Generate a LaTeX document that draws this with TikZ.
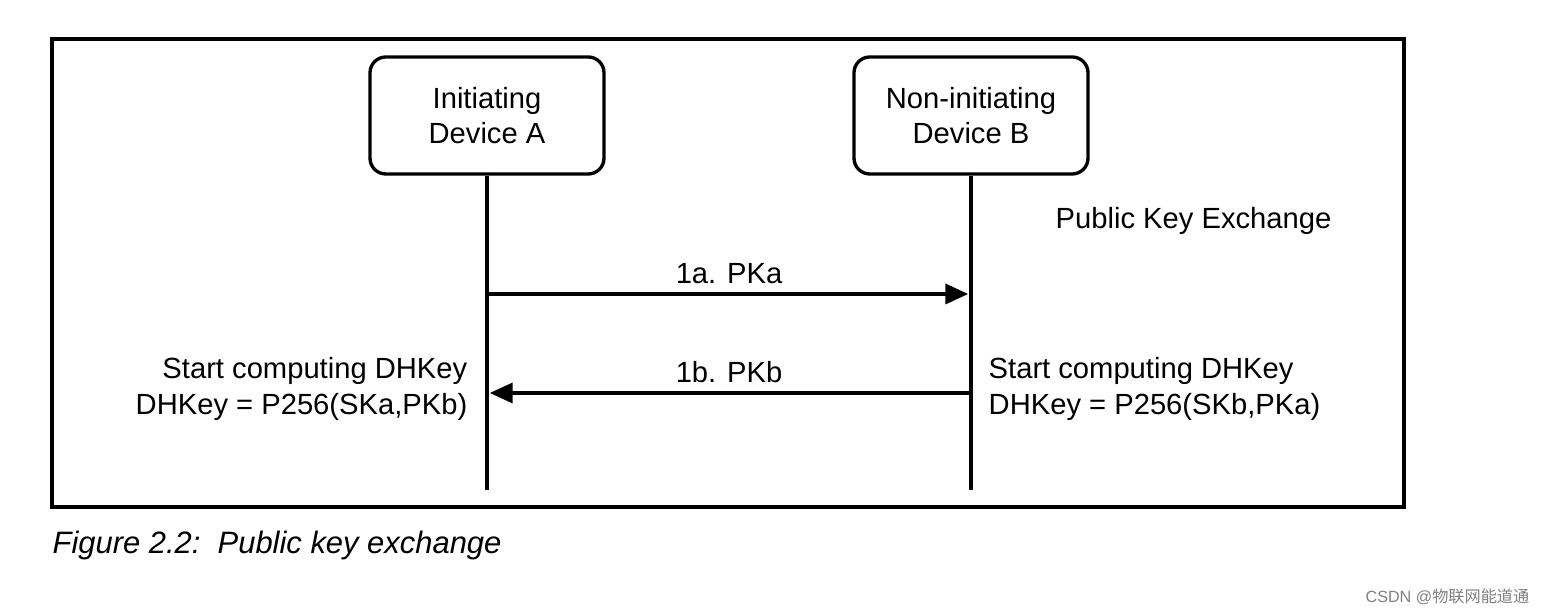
\documentclass[tikz,border=0pt]{standalone}
\usepackage{fontspec}
\setmainfont{Liberation Sans}
\newfontfamily\cjkfont{Noto Sans CJK SC}
\usetikzlibrary{arrows, arrows.meta}
\usetikzlibrary{positioning}
\usepackage{xcolor}

\tikzset{
	device/.style={draw, line width=0.95pt, rounded corners=4.5pt, minimum width=2.34cm, minimum height=1.17cm, align=center, font=\fontsize{8.3}{10}\selectfont},
	life/.style={line width=0.95pt},
	msg/.style={line width=0.95pt, -{Triangle[length=6.5pt,width=5.7pt]}},
	txt/.style={font=\fontsize{8.3}{10}\selectfont, inner sep=0pt}
}

\begin{document}
\begin{tikzpicture}[x=1cm, y=-1cm] % public key exchange
	
	\useasboundingbox (0,0) rectangle (15.47,6.16);
	
	%frame
	\draw[line width=0.95pt] (0.52,0.39) rectangle (14.04,5.07);
	
	%devices
	\node[device] (devA) at (4.87,1.155) {Initiating\\Device A};
	\node[device] (devB) at (9.71,1.155) {Non-initiating\\Device B};
	
	%lifelines
	\coordinate (endA) at (4.87,4.90);
	\coordinate (endB) at (9.71,4.90);
	\draw[life] (devA.south) -- (endA);
	\draw[life] (devB.south) -- (endB);
	
	%messages
	\coordinate (a1) at (4.87,2.94);
	\coordinate (b1) at (9.71,2.94);
	\coordinate (a2) at (4.87,3.93);
	\coordinate (b2) at (9.71,3.93);
	\draw[msg, shorten >=0.8pt] (a1) -- (b1) node[txt, midway, above=0.9mm] (pka) {1a. PKa};
	\draw[msg, shorten >=0.8pt] (b2) -- (a2) node[txt, midway, above=0.9mm] (pkb) {1b. PKb};
	
	%labels
	\node[txt, anchor=west] (pke) at (10.55,2.21) {Public Key Exchange};
	\node[txt, anchor=east, align=right] (compA) at (4.68,3.89) {Start computing DHKey\\DHKey = P256(SKa,PKb)};
	\node[txt, anchor=west, align=left] (compB) at (9.88,3.89) {Start computing DHKey\\DHKey = P256(SKb,PKa)};
	
	%caption
	\node[txt, anchor=west, font=\fontsize{8.8}{10}\selectfont\itshape] (caption) at (0.52,5.46) {Figure 2.2:\ \ Public key exchange};
	
	%watermark
	\node[txt, anchor=east, text=gray, font=\fontsize{4.6}{5}\selectfont] (mark) at (15.30,5.97) {CSDN @{\cjkfont 物联网能道通}};
	
\end{tikzpicture}
\end{document}
